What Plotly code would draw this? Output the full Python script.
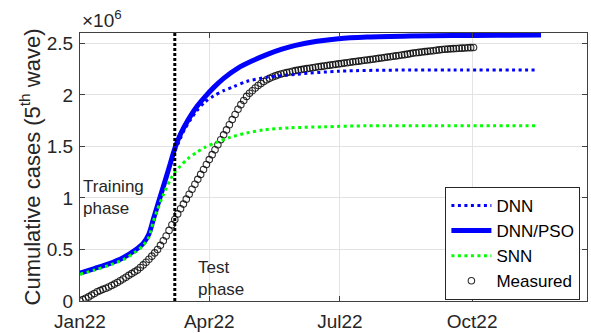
import pandas as pd
import plotly.graph_objects as go

start = pd.Timestamp("2022-01-01")
test_start = "2022-03-08"

# DNN/PSO (values in millions)
pso_days = [0, 10, 20, 30, 38, 44, 48, 51, 56, 60, 63, 66, 70, 75, 81, 87, 93, 100, 110, 120,
            130, 140, 150, 165, 180, 200, 230, 260, 290, 321]
pso_vals = [0.27, 0.315, 0.36, 0.42, 0.49, 0.56, 0.65, 0.79, 1.02, 1.20, 1.34, 1.48, 1.62, 1.75,
            1.88, 1.98, 2.07, 2.16, 2.26, 2.33, 2.39, 2.44, 2.48, 2.52, 2.545, 2.56, 2.57, 2.575,
            2.578, 2.58]

# DNN
dnn_days = [0, 10, 20, 30, 38, 44, 48, 51, 56, 60, 63, 66, 70, 73, 77, 81, 87, 93, 100, 107,
            116, 130, 151, 181, 220, 260, 319]
dnn_vals = [0.27, 0.315, 0.36, 0.42, 0.49, 0.56, 0.65, 0.79, 1.02, 1.20, 1.33, 1.45, 1.58, 1.67,
            1.76, 1.84, 1.93, 1.99, 2.04, 2.08, 2.13, 2.17, 2.20, 2.23, 2.24, 2.24, 2.24]

# SNN
snn_days = [0, 10, 20, 30, 38, 44, 48, 51, 54, 58, 63, 66, 70, 75, 81, 87, 95, 105, 116, 128,
            146, 170, 200, 250, 319]
snn_vals = [0.26, 0.30, 0.345, 0.40, 0.47, 0.54, 0.62, 0.77, 0.89, 1.03, 1.18, 1.25, 1.31, 1.38,
            1.44, 1.49, 1.54, 1.59, 1.63, 1.66, 1.68, 1.69, 1.70, 1.70, 1.70]

# Measured, every 2 days from 2022-01-01 (millions)
measured_step_days = 2
measured_vals = [
    0.000, 0.013, 0.027, 0.040, 0.057, 0.073, 0.090, 0.101, 0.113, 0.124,
    0.136, 0.150, 0.164, 0.180, 0.197, 0.214, 0.231, 0.249, 0.266, 0.283,
    0.300, 0.325, 0.350, 0.376, 0.405, 0.435, 0.467, 0.500, 0.540, 0.585,
    0.630, 0.685, 0.740, 0.790, 0.845, 0.895, 0.940, 0.988, 1.036, 1.084,
    1.132, 1.180, 1.228, 1.276, 1.324, 1.372, 1.420, 1.468, 1.516, 1.564,
    1.612, 1.660, 1.710, 1.760, 1.810, 1.860, 1.905, 1.945, 1.985, 2.015,
    2.040, 2.067, 2.090, 2.110, 2.130, 2.147, 2.160, 2.173, 2.184, 2.194,
    2.202, 2.209, 2.216, 2.222, 2.229, 2.235, 2.240, 2.245, 2.250, 2.254,
    2.258, 2.263, 2.267, 2.272, 2.276, 2.280, 2.284, 2.288, 2.292, 2.296,
    2.300, 2.304, 2.308, 2.312, 2.316, 2.320, 2.323, 2.327, 2.331, 2.335,
    2.338, 2.342, 2.346, 2.350, 2.354, 2.358, 2.362, 2.366, 2.370, 2.374,
    2.378, 2.382, 2.386, 2.390, 2.395, 2.400, 2.405, 2.408, 2.412, 2.415,
    2.419, 2.422, 2.425, 2.428, 2.432, 2.436, 2.440, 2.442, 2.444, 2.446,
    2.448, 2.450, 2.452, 2.453, 2.455, 2.457, 2.458, 2.460,
]

x_tick_dates = ["2022-01-01", "2022-04-01", "2022-07-01", "2022-10-01"]
x_tick_labels = ["Jan22", "Apr22", "Jul22", "Oct22"]
y_tick_vals = [0, 0.5, 1, 1.5, 2, 2.5]
y_tick_labels = ["0", "0.5", "1", "1.5", "2", "2.5"]
x_range = ["2022-01-01", "2022-12-20"]
y_range = [0, 2.6]


def to_dates(days):
    return [start + pd.Timedelta(days=d) for d in days]


measured_dates = pd.date_range(start, periods=len(measured_vals), freq=f"{measured_step_days}D")

FONT = "Liberation Sans, Arial, sans-serif"
TXT = "#262626"

fig = go.Figure()
fig.add_trace(go.Scatter(
    x=measured_dates, y=measured_vals, mode="markers", name="Measured", legendrank=4,
    marker=dict(symbol="circle-open", size=6.5, color="rgba(10,10,10,0.85)", line=dict(width=1.1)),
))
fig.add_trace(go.Scatter(
    x=to_dates(dnn_days), y=dnn_vals, mode="lines", name="DNN", legendrank=1,
    line=dict(color="#0000ff", width=3, dash="3px,3.5px", shape="spline", smoothing=0.8),
))
fig.add_trace(go.Scatter(
    x=to_dates(pso_days), y=pso_vals, mode="lines", name="DNN/PSO", legendrank=2,
    line=dict(color="#0000ff", width=5, shape="spline", smoothing=0.8),
))
fig.add_trace(go.Scatter(
    x=to_dates(snn_days), y=snn_vals, mode="lines", name="SNN", legendrank=3,
    line=dict(color="#00ff00", width=3, dash="3px,3.5px", shape="spline", smoothing=0.8),
))

fig.add_shape(type="line", x0=test_start, x1=test_start, xref="x", y0=0, y1=1, yref="paper",
              line=dict(color="black", width=3, dash="3px,2px"), layer="above")

fig.add_annotation(x="2022-01-02", y=1.0, xref="x", yref="y", text="Training<br>phase",
                   showarrow=False, xanchor="left", yanchor="middle", align="left",
                   font=dict(family=FONT, size=17, color=TXT))
fig.add_annotation(x="2022-03-23", y=0.22, xref="x", yref="y", text="Test<br>phase",
                   showarrow=False, xanchor="left", yanchor="middle", align="left",
                   font=dict(family=FONT, size=17, color=TXT))
fig.add_annotation(x=0, y=1, xref="paper", yref="paper", text="×10<sup>6</sup>",
                   showarrow=False, xanchor="left", yanchor="bottom", yshift=0,
                   font=dict(family=FONT, size=19, color=TXT))

axis_common = dict(
    showline=True, linecolor="#404040", linewidth=1, mirror="ticks",
    ticks="inside", ticklen=5, tickcolor="#404040",
    showgrid=True, gridcolor="#e3e3e3", gridwidth=1, zeroline=False,
    tickfont=dict(family=FONT, size=19, color=TXT), automargin=False,
)

fig.update_xaxes(type="date", range=x_range, tickvals=x_tick_dates, ticktext=x_tick_labels,
                 ticklabelstandoff=3, **axis_common)
fig.update_yaxes(range=y_range, tickvals=y_tick_vals, ticktext=y_tick_labels,
                 ticklabelstandoff=2,
                 title=dict(text="Cumulative cases (5<sup>th</sup> wave)", standoff=0,
                            font=dict(family=FONT, size=22, color=TXT)),
                 **axis_common)

fig.update_layout(
    width=591, height=333,
    margin=dict(l=80, r=4, t=33, b=32),
    paper_bgcolor="white", plot_bgcolor="white",
    showlegend=True,
    legend=dict(x=0.987, y=0.004, xanchor="right", yanchor="bottom",
                bgcolor="white", bordercolor="#262626", borderwidth=1,
                font=dict(family=FONT, size=17, color="black"),
                tracegroupgap=0, itemwidth=40),
    font=dict(family=FONT, color=TXT),
)

fig.write_html("out.html", config={"displayModeBar": False},
               post_script="document.body.style.margin='0';document.body.style.overflow='hidden';")
